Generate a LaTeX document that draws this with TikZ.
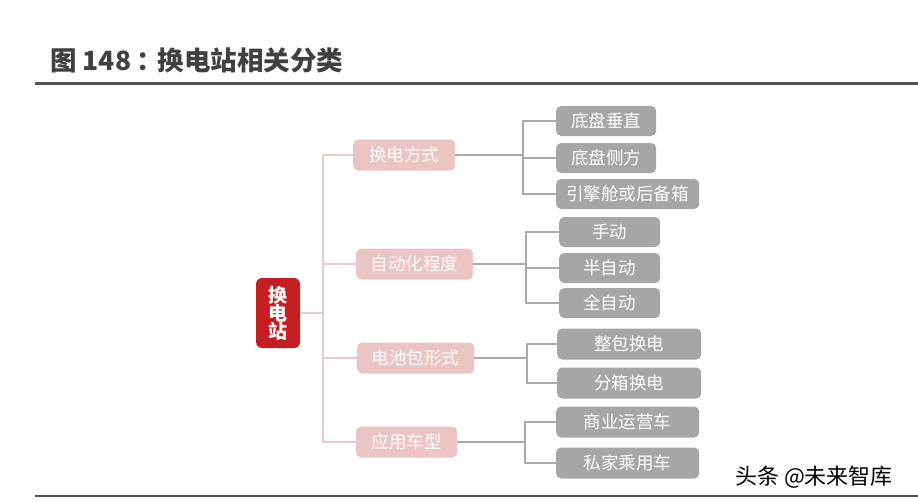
\documentclass[tikz,border=0pt]{standalone}
\usepackage{fontspec}
\setmainfont{Noto Sans CJK SC}
\usetikzlibrary{positioning, calc}

\definecolor{rootred}{RGB}{196,30,35}
\definecolor{pinkbox}{RGB}{235,196,196}
\definecolor{pinkline}{RGB}{236,200,200}
\definecolor{greybox}{RGB}{166,166,166}
\definecolor{greyline}{RGB}{170,170,170}
\definecolor{titlegrey}{RGB}{64,64,64}
\definecolor{rulegrey}{RGB}{85,85,85}

\begin{document}
\begin{tikzpicture}[
  x=1pt, y=-1pt,
  rootbox/.style = {rectangle, rounded corners=6pt, fill=rootred, text=white,
                    minimum width=44pt, minimum height=70pt, align=center, inner sep=0pt,
                    font=\fontsize{19}{18}\selectfont\bfseries},
  catbox/.style  = {rectangle, rounded corners=5pt, fill=pinkbox, text=white, anchor=west,
                    minimum height=31pt, inner sep=0pt, font=\fontsize{17.5}{17.5}\selectfont},
  leafbox/.style = {rectangle, rounded corners=5pt, fill=greybox, text=white, anchor=west,
                    minimum height=30pt, inner sep=0pt, font=\fontsize{17.5}{17.5}\selectfont},
  pline/.style   = {pinkline, line width=1.6pt},
  gline/.style   = {greyline, line width=1.6pt}
]
\useasboundingbox (0,0) rectangle (918,501);

% title and rules
\node[anchor=west, text=titlegrey, font=\fontsize{26.5}{26.5}\selectfont\bfseries, inner sep=0pt]
  (title) at (50,60) {图 148\kern5pt：\kern-5pt换电站相关分类};
\draw[rulegrey, line width=3pt] (35,83) -- (918,83);
\draw[rulegrey, line width=1.5pt] (35,496) -- (918,496);

% root
\node[rootbox] (root) at (278,313) {换\\电\\站};

% categories
\node[catbox, minimum width=102pt] (way)  at (353,155) {换电方式};
\node[catbox, minimum width=117pt] (auto) at (356,264) {自动化程度};
\node[catbox, minimum width=117pt] (pack) at (357,358) {电池包形式};
\node[catbox, minimum width=101pt] (car)  at (356,442) {应用车型};

% leaves
\node[leafbox, minimum width=100pt] (chassisv) at (556,121) {底盘垂直};
\node[leafbox, minimum width=100pt] (chassiss) at (556,158) {底盘侧方};
\node[leafbox, minimum width=143pt] (trunk)    at (556,194) {引擎舱或后备箱};

\node[leafbox, minimum width=101pt] (manual) at (559,232) {手动};
\node[leafbox, minimum width=101pt] (semi)   at (559,268) {半自动};
\node[leafbox, minimum width=101pt] (full)   at (559,303) {全自动};

\node[leafbox, minimum width=144pt, minimum height=31pt] (whole) at (557,344) {整包换电};
\node[leafbox, minimum width=144pt, minimum height=31pt] (split) at (557,383) {分箱换电};

\node[leafbox, minimum width=143pt, minimum height=31pt] (biz)     at (556,422) {商业运营车};
\node[leafbox, minimum width=143pt, minimum height=31pt] (private) at (556,463) {私家乘用车};

% watermark
\node[anchor=west, font=\fontsize{22}{22}\selectfont, inner sep=0pt] (mark) at (735,477) {头条 @未来智库};

% root to categories
\coordinate (tr) at (323,313);
\draw[pline] (root.east) -- (tr);
\draw[pline] (tr) |- (way.west);
\draw[pline] (tr) |- (car.west);
\draw[pline] (tr |- auto.west) -- (auto.west);
\draw[pline] (tr |- pack.west) -- (pack.west);

% categories to leaves
\coordinate (j1) at (523,155);
\draw[gline] (way.east) -- (j1);
\draw[gline] (j1) |- (chassisv.west);
\draw[gline] (j1) |- (trunk.west);
\draw[gline] (j1 |- chassiss.west) -- (chassiss.west);

\coordinate (j2) at (526,264);
\draw[gline] (auto.east) -- (j2);
\draw[gline] (j2) |- (manual.west);
\draw[gline] (j2) |- (full.west);
\draw[gline] (j2 |- semi.west) -- (semi.west);

\coordinate (j3) at (527,358);
\draw[gline] (pack.east) -- (j3);
\draw[gline] (j3) |- (whole.west);
\draw[gline] (j3) |- (split.west);

\coordinate (j4) at (525,442);
\draw[gline] (car.east) -- (j4);
\draw[gline] (j4) |- (biz.west);
\draw[gline] (j4) |- (private.west);

\end{tikzpicture}
\end{document}
